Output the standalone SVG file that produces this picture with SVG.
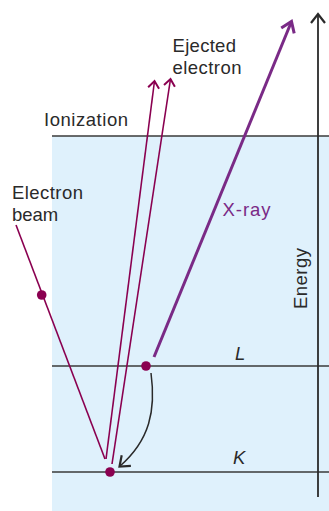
<svg xmlns="http://www.w3.org/2000/svg" width="329" height="511" viewBox="0 0 329 511">
<style>
text{font-family:"Liberation Sans",Arial,sans-serif;font-size:18.5px;fill:#2a2a2a}
.lvl{stroke:#3a3a3a;stroke-width:1.6;fill:none}
.e{stroke:#8a0050;stroke-width:1.6;fill:none}
.dot{fill:#8a0050}
.xr{stroke:#7a2a86;stroke-width:3;fill:none}
</style>
<defs>
<marker id="mE" markerUnits="userSpaceOnUse" markerWidth="20" markerHeight="20" refX="0" refY="0" viewBox="-10 -10 20 20" orient="auto"><path d="M-7,-5.5 L0,0 L-7,5.5" fill="none" stroke="#8a0050" stroke-width="2"/></marker>
<marker id="mX" markerUnits="userSpaceOnUse" markerWidth="24" markerHeight="24" refX="0" refY="0" viewBox="-12 -12 24 24" orient="auto"><path d="M-10,-7 L0,0 L-10,7" fill="none" stroke="#7a2a86" stroke-width="3"/></marker>
<marker id="mK" markerUnits="userSpaceOnUse" markerWidth="24" markerHeight="24" refX="0" refY="0" viewBox="-12 -12 24 24" orient="auto"><path d="M-9,-7 L0,0 L-9,7" fill="none" stroke="#2a2a2a" stroke-width="2.2"/></marker>
</defs>
<rect x="52" y="136" width="277" height="375" fill="#dff1fc"/>
<g id="levels">
<line class="lvl" x1="52" y1="136" x2="329" y2="136"/>
<line class="lvl" x1="52" y1="366" x2="329" y2="366"/>
<line class="lvl" x1="52" y1="472" x2="329" y2="472"/>
</g>
<g id="connectors">
<line class="e" x1="16" y1="225" x2="105" y2="459"/>
<line class="e" x1="106" y1="459" x2="154.5" y2="81" marker-end="url(#mE)"/>
<line class="e" x1="112" y1="464" x2="170.5" y2="79" marker-end="url(#mE)"/>
<line class="xr" x1="154" y1="357" x2="291.5" y2="21.5" marker-end="url(#mX)"/>
<line x1="318" y1="497" x2="318" y2="14" stroke="#2a2a2a" stroke-width="1.8" marker-end="url(#mK)"/>
<path d="M151,373 C156,410 150,440 119.5,466.5" fill="none" stroke="#2a2a2a" stroke-width="1.5" marker-end="url(#mK)"/>
</g>
<g id="dots">
<circle class="dot" cx="41.7" cy="295" r="4.8"/>
<circle class="dot" cx="146" cy="366" r="4.8"/>
<circle class="dot" cx="110" cy="472" r="4.8"/>
</g>
<g id="labels">
<text x="44" y="126" textLength="84">Ionization</text>
<text x="172.5" y="52" textLength="63.5">Ejected</text>
<text x="172.5" y="74" textLength="69">electron</text>
<text x="12" y="198.5" textLength="71">Electron</text>
<text x="12" y="221">beam</text>
<text x="222.5" y="216" textLength="48" style="fill:#7a2a86">X-ray</text>
<text transform="translate(306.5,309) rotate(-90)" textLength="61">Energy</text>
<text x="235" y="359.5" style="font-style:italic">L</text>
<text x="233" y="464" style="font-style:italic">K</text>
</g>
</svg>
